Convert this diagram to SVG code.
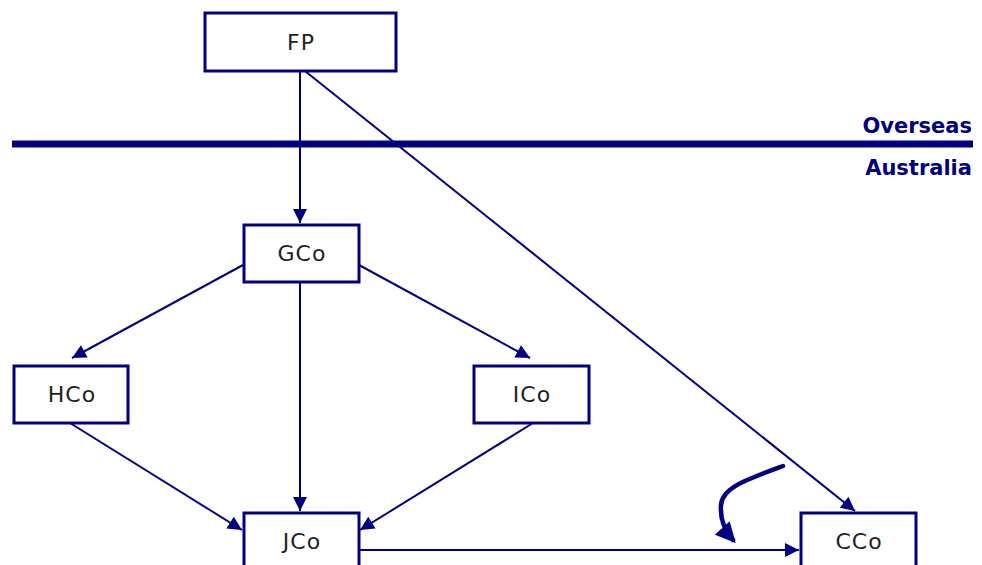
<svg xmlns="http://www.w3.org/2000/svg" width="982" height="565" viewBox="0 0 982 565">
<style>
.box{fill:#fff;stroke:#000080;stroke-width:3}
.lbl{font-family:"DejaVu Sans","Liberation Sans",sans-serif;font-size:22px;fill:#222;text-anchor:middle;letter-spacing:1px}
.reg{font-family:"DejaVu Sans","Liberation Sans",sans-serif;font-size:21px;font-weight:bold;fill:#000080;text-anchor:end}
.con{stroke:#000080;stroke-width:2;fill:none}
</style>
<defs>
<marker id="ah" viewBox="0 0 10 10" refX="10" refY="5" markerWidth="7.5" markerHeight="7" orient="auto" markerUnits="strokeWidth">
<path d="M0,0 L10,5 L0,10 z" fill="#000080"/>
</marker>
<marker id="ah2" viewBox="0 0 10 10" refX="8" refY="5" markerWidth="4.5" markerHeight="4.5" orient="auto" markerUnits="strokeWidth">
<path d="M0,0 L10,5 L0,10 z" fill="#000080"/>
</marker>
</defs>
<rect width="982" height="565" fill="#fff"/>
<g id="divider">
<line x1="12" y1="144" x2="973" y2="144" stroke="#000080" stroke-width="7"/>
<text class="reg" x="972" y="133">Overseas</text>
<text class="reg" x="972" y="175">Australia</text>
</g>
<g id="connectors">
<line class="con" x1="300" y1="71" x2="300" y2="223" marker-end="url(#ah)"/>
<line class="con" x1="305" y1="71" x2="855" y2="511" marker-end="url(#ah)"/>
<line class="con" x1="243" y1="265" x2="72" y2="358" marker-end="url(#ah)"/>
<line class="con" x1="359" y1="265" x2="530" y2="358" marker-end="url(#ah)"/>
<line class="con" x1="300" y1="282" x2="300" y2="511" marker-end="url(#ah)"/>
<line class="con" x1="70" y1="423" x2="242" y2="530" marker-end="url(#ah)"/>
<line class="con" x1="533" y1="423" x2="360" y2="530" marker-end="url(#ah)"/>
<line class="con" x1="359" y1="550" x2="799" y2="550" marker-end="url(#ah)"/>
<path d="M783,466 C745,480 722,488 721,505 C720,518 724,530 733,540" stroke="#000080" stroke-width="4.5" fill="none" stroke-linecap="round" marker-end="url(#ah2)"/>
</g>
<g id="FP"><rect class="box" x="205" y="13" width="191" height="58"/><text class="lbl" x="301" y="50">FP</text></g>
<g id="GCo"><rect class="box" x="244" y="225" width="115" height="57"/><text class="lbl" x="302" y="261">GCo</text></g>
<g id="HCo"><rect class="box" x="14" y="366" width="114" height="57"/><text class="lbl" x="72" y="402">HCo</text></g>
<g id="ICo"><rect class="box" x="474" y="366" width="115" height="57"/><text class="lbl" x="532" y="402">ICo</text></g>
<g id="JCo"><rect class="box" x="244" y="513" width="115" height="60"/><text class="lbl" x="302" y="549">JCo</text></g>
<g id="CCo"><rect class="box" x="801" y="513" width="115" height="60"/><text class="lbl" x="859" y="549">CCo</text></g>
</svg>
